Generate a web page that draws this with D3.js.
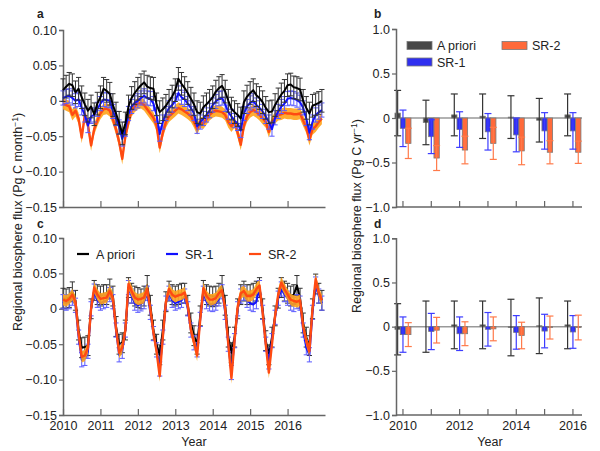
<!DOCTYPE html>
<html><head><meta charset="utf-8">
<script src="https://cdn.jsdelivr.net/npm/d3@7/dist/d3.min.js"></script>
<style>body{margin:0;background:#fff} svg text{font-family:"Liberation Sans",Arial,Helvetica,sans-serif;fill:#222}</style>
</head><body><svg id="chart" width="600" height="451"></svg>
<script>
// ---------- DATA ----------
const years = [2010, 2011, 2012, 2013, 2014, 2015, 2016];
const seriesNames = ["A priori", "SR-1", "SR-2"];

// Panel a: monthly flux (Pg C month^-1), Jan 2010 .. Dec 2016
const aprioriA = [0.015,0.02,0.024,0.022,0.012,0.017,0.005,-0.005,-0.014,-0.008,-0.019,-0.004,
  0.005,0.017,0.014,0.01,-0.006,-0.018,-0.031,-0.046,-0.032,-0.008,0.004,0.011,
  0.017,0.022,0.026,0.02,0.018,0.017,-0.005,-0.016,-0.012,-0.007,0.0,0.006,
  0.015,0.031,0.024,0.018,0.011,0.003,-0.005,-0.016,-0.018,-0.009,-0.005,0.0,
  0.005,0.013,0.018,0.021,0.013,0.0,-0.011,-0.016,-0.02,-0.025,-0.002,0.006,
  0.011,0.015,0.008,0.004,-0.002,-0.01,-0.016,-0.015,-0.006,0.002,0.009,0.014,
  0.022,0.023,0.019,0.018,0.016,0.0,-0.01,-0.018,-0.007,-0.005,-0.003,0.0];
const sr1A = [0.004,0.006,0.007,0.004,0.0,0.002,-0.01,-0.02,-0.035,-0.022,-0.02,-0.012,
  -0.004,0.002,0.001,0.0,-0.015,-0.025,-0.037,-0.054,-0.04,-0.018,-0.008,-0.003,
  0.0,0.004,0.007,0.004,0.003,-0.004,-0.02,-0.047,-0.03,-0.018,-0.01,-0.006,
  0.0,0.011,0.005,0.002,-0.004,-0.01,-0.018,-0.036,-0.03,-0.025,-0.02,-0.014,
  -0.006,-0.001,0.003,0.004,-0.005,-0.016,-0.022,-0.028,-0.032,-0.042,-0.018,-0.008,
  -0.003,0.0,-0.006,-0.01,-0.015,-0.022,-0.03,-0.04,-0.024,-0.015,-0.008,-0.004,
  0.003,0.004,0.003,0.001,-0.002,-0.01,-0.025,-0.045,-0.03,-0.02,-0.016,-0.013];
const sr2A = [-0.004,-0.006,-0.008,-0.02,-0.014,-0.025,-0.052,-0.02,-0.034,-0.063,-0.04,-0.028,
  -0.018,-0.012,-0.011,-0.014,-0.026,-0.04,-0.058,-0.082,-0.05,-0.03,-0.014,-0.008,
  -0.004,-0.003,-0.006,-0.012,-0.018,-0.024,-0.035,-0.066,-0.045,-0.03,-0.022,-0.018,
  -0.014,-0.01,-0.012,-0.015,-0.018,-0.022,-0.03,-0.04,-0.03,-0.032,-0.026,-0.02,
  -0.016,-0.014,-0.015,-0.016,-0.02,-0.03,-0.036,-0.03,-0.045,-0.062,-0.035,-0.022,
  -0.016,-0.013,-0.016,-0.02,-0.025,-0.03,-0.044,-0.03,-0.024,-0.02,-0.019,-0.017,
  -0.018,-0.018,-0.019,-0.019,-0.018,-0.028,-0.038,-0.055,-0.04,-0.036,-0.03,-0.025];

// Panel c: monthly flux (Pg C month^-1)
const aprioriC = [0.015,0.014,0.016,0.024,0.012,-0.03,-0.055,-0.054,-0.052,0.0,0.026,0.02,
  0.018,0.02,0.02,0.028,0.018,-0.025,-0.05,-0.048,-0.03,0.03,0.022,0.018,
  0.016,0.014,0.018,0.033,0.005,-0.03,-0.05,-0.065,-0.03,0.01,0.025,0.02,
  0.018,0.02,0.022,0.022,0.005,-0.02,-0.038,-0.05,-0.01,0.026,0.02,0.018,
  0.017,0.018,0.022,0.033,0.005,-0.04,-0.062,-0.04,0.0,0.02,0.025,0.02,
  0.02,0.022,0.025,0.03,0.0,-0.045,-0.065,-0.04,-0.01,0.015,0.03,0.025,
  0.022,0.018,0.02,0.033,0.015,-0.02,-0.04,-0.052,0.0,0.035,0.022,0.012];
const sr1C = [0.01,0.008,0.01,0.015,0.005,-0.04,-0.072,-0.07,-0.06,0.0,0.025,0.012,
  0.008,0.01,0.012,0.02,0.01,-0.03,-0.065,-0.06,-0.03,0.03,0.018,0.008,
  0.005,0.007,0.01,0.022,-0.005,-0.035,-0.058,-0.085,-0.04,0.008,0.022,0.012,
  0.008,0.01,0.012,0.018,0.0,-0.03,-0.048,-0.058,-0.015,0.022,0.01,0.007,
  0.006,0.008,0.014,0.024,-0.005,-0.05,-0.09,-0.045,0.0,0.018,0.022,0.012,
  0.008,0.006,0.01,0.03,-0.005,-0.05,-0.075,-0.045,-0.012,0.015,0.028,0.02,
  0.015,0.008,0.006,0.01,0.008,-0.03,-0.055,-0.065,-0.005,0.035,0.018,0.008];
const sr2C = [0.013,0.011,0.014,0.02,0.01,-0.035,-0.068,-0.066,-0.055,0.0,0.03,0.02,
  0.014,0.015,0.016,0.025,0.015,-0.028,-0.062,-0.055,-0.03,0.035,0.025,0.016,
  0.013,0.014,0.016,0.028,0.0,-0.034,-0.06,-0.095,-0.04,0.01,0.028,0.02,
  0.017,0.019,0.02,0.023,0.005,-0.03,-0.047,-0.066,-0.015,0.029,0.018,0.013,
  0.013,0.015,0.022,0.026,0.0,-0.05,-0.098,-0.045,0.003,0.022,0.025,0.018,
  0.018,0.02,0.028,0.033,-0.005,-0.05,-0.09,-0.05,-0.01,0.02,0.037,0.028,
  0.02,0.013,0.011,0.01,0.012,-0.025,-0.045,-0.06,0.0,0.042,0.023,0.012];

// uncertainty half-widths (Pg C month^-1)
const errAprioriA = 0.016, errSr1A = 0.010, bandSr2A = 0.008;
const errAprioriC = 0.014, errSr1C = 0.010, bandSr2C = 0.008;

// Panel b: annual flux (Pg C yr^-1) and uncertainty
const aprioriB = [0.055,-0.05,0.035,0.02,0.01,-0.025,0.035];
const aprioriBErr = [0.255,0.25,0.235,0.25,0.24,0.245,0.235];
const sr1B = [-0.116,-0.21,-0.13,-0.155,-0.19,-0.145,-0.145];
const sr1BErr = [0.205,0.19,0.2,0.205,0.19,0.205,0.205];
const sr2B = [-0.285,-0.45,-0.36,-0.285,-0.37,-0.385,-0.385];
const sr2BErr = [0.17,0.14,0.155,0.18,0.155,0.13,0.125];

// Panel d: annual flux (Pg C yr^-1) and uncertainty
const aprioriD = [-0.03,0.0,0.02,0.02,-0.01,0.01,0.02];
const aprioriDErr = [0.29,0.29,0.27,0.27,0.32,0.315,0.27];
const sr1D = [-0.09,-0.055,-0.08,-0.03,-0.065,-0.05,-0.06];
const sr1DErr = [0.2,0.205,0.19,0.19,0.19,0.19,0.185];
const sr2D = [-0.09,-0.04,-0.08,-0.025,-0.1,-0.01,-0.01];
const sr2DErr = [0.135,0.145,0.135,0.135,0.15,0.13,0.14];

const tickA = [0.10,0.05,0,-0.05,-0.10,-0.15];
const tickB = [1.0,0.5,0,-0.5,-1.0];
const tickDLabels = [2010, 2012, 2014, 2016];

// ---------- DRAWING ----------
const svg = d3.select("#chart");
const FONT = 12.5;
const axisCol = "#666";
const fmtA = v => v === 0 ? "0" : (v < 0 ? "\u2212" : "") + Math.abs(v).toFixed(2);
const fmtB = v => v === 0 ? "0" : (v < 0 ? "\u2212" : "") + Math.abs(v).toFixed(1);

const t = d3.range(aprioriA.length).map(i => years[0] + i / 12);
const x = d3.scaleLinear().domain([2010, 2017]).range([63, 325]);

function styleAxis(g) {
  g.selectAll("path.domain").attr("stroke", axisCol).attr("stroke-width", 1.5);
  g.selectAll(".tick line").attr("stroke", axisCol).attr("stroke-width", 1.2);
  g.selectAll("text").attr("font-size", FONT).attr("fill", "#222")
    .attr("font-family", '"Liberation Sans",Arial,sans-serif');
}

function timePanel(y, top, bottom, ap, s1, s2, eAp, eS1, bS2, showXLabels, order) {
  // y axis
  const gy = svg.append("g").attr("transform", "translate(63,0)")
    .call(d3.axisLeft(y).tickValues(tickA).tickFormat(fmtA).tickSize(4).tickPadding(2));
  styleAxis(gy);
  // x axis (ticks pointing inward)
  const gx = svg.append("g").attr("transform", `translate(0,${bottom})`)
    .call(d3.axisBottom(x).tickValues(years).tickSize(-6).tickSizeOuter(0)
      .tickFormat(showXLabels ? d3.format("d") : () => "").tickPadding(showXLabels ? 11 : 0));
  styleAxis(gx);
  gx.selectAll(".tick text").attr("dy", "0.35em");

  const line = arr => d3.line().x((d, i) => x(t[i])).y(d => y(d))(arr);
  const drawErr = (arr, e, col, w) => {
    const g = svg.append("g").attr("stroke", col).attr("stroke-width", w).attr("fill", "none");
    arr.forEach((v, i) => {
      const xi = x(t[i]);
      g.append("line").attr("x1", xi).attr("x2", xi).attr("y1", y(v - e)).attr("y2", y(v + e));
      g.append("line").attr("x1", xi - 2.6).attr("x2", xi + 2.6).attr("y1", y(v - e)).attr("y2", y(v - e));
      g.append("line").attr("x1", xi - 2.6).attr("x2", xi + 2.6).attr("y1", y(v + e)).attr("y2", y(v + e));
    });
  };
  const drawSr2 = () => {
    const area = d3.area().x((d, i) => x(t[i])).y0(d => y(d - bS2)).y1(d => y(d + bS2));
    svg.append("path").attr("d", area(s2)).attr("fill", "#ffa31a").attr("opacity", 0.9);
    svg.append("path").attr("d", line(s2)).attr("fill", "none").attr("stroke", "#ff4a12").attr("stroke-width", 2.4).attr("stroke-linejoin", "round");
  };
  const drawSr1 = () => {
    drawErr(s1, eS1, "#5a5aff", 1);
    svg.append("path").attr("d", line(s1)).attr("fill", "none").attr("stroke", "#1010ff").attr("stroke-width", 2).attr("stroke-linejoin", "round");
  };
  const drawAp = () => {
    drawErr(ap, eAp, "#333", 1);
    svg.append("path").attr("d", line(ap)).attr("fill", "none").attr("stroke", "#000").attr("stroke-width", 2).attr("stroke-linejoin", "round");
  };
  const fns = { ap: drawAp, s1: drawSr1, s2: drawSr2 };
  order.forEach(k => fns[k]());
}

const yA = d3.scaleLinear().domain([-0.15, 0.10]).range([207, 30]);
const yC = d3.scaleLinear().domain([-0.15, 0.10]).range([415, 238]);
timePanel(yA, 30, 207, aprioriA, sr1A, sr2A, errAprioriA, errSr1A, bandSr2A, false, ["s2", "s1", "ap"]);
timePanel(yC, 238, 415, aprioriC, sr1C, sr2C, errAprioriC, errSr1C, bandSr2C, true, ["ap", "s1", "s2"]);

// legend panel c
const legC = [
  { name: seriesNames[0], col: "#000", x: 77 },
  { name: seriesNames[1], col: "#1010ff", x: 166 },
  { name: seriesNames[2], col: "#ff4a12", x: 249 }];
legC.forEach(d => {
  svg.append("line").attr("x1", d.x).attr("x2", d.x + 12).attr("y1", 254).attr("y2", 254)
    .attr("stroke", d.col).attr("stroke-width", 2.2);
  svg.append("text").attr("x", d.x + 19).attr("y", 258.5).attr("font-size", FONT).text(d.name);
});

// ---------- bar panels ----------
const xb = d3.scaleBand().domain(years).range([388.8, 587.1]);
const xInner = d3.scaleBand().domain([0, 1, 2]).range([-8, 8]);
const barFill = ["#484848", "#2f2fef", "#ff6a3a"];
const errCol = ["#333", "#3c3cff", "#ff7a4a"];

function barPanel(y, top, bottom, vals, errs, showLabels) {
  // zero line
  svg.append("line").attr("x1", 396).attr("x2", 582).attr("y1", y(0)).attr("y2", y(0))
    .attr("stroke", "#999").attr("stroke-width", 1.5);
  vals.forEach((arr, s) => {
    const g = svg.append("g");
    arr.forEach((v, i) => {
      const cx = xb(years[i]) + xb.bandwidth() / 2 + xInner(s);
      g.append("rect").attr("x", cx).attr("width", xInner.bandwidth())
        .attr("y", Math.min(y(v), y(0))).attr("height", Math.abs(y(v) - y(0)))
        .attr("fill", barFill[s]).attr("stroke", "#7a7a7a").attr("stroke-width", 0.8);
    });
  });
  vals.forEach((arr, s) => {
    const g = svg.append("g").attr("stroke", errCol[s]).attr("stroke-width", 1.2);
    arr.forEach((v, i) => {
      const cx = xb(years[i]) + xb.bandwidth() / 2 + xInner(s) + xInner.bandwidth() / 2;
      const e = errs[s][i];
      g.append("line").attr("x1", cx).attr("x2", cx).attr("y1", y(v - e)).attr("y2", y(v + e));
      [v - e, v + e].forEach(w => g.append("line").attr("x1", cx - 3.5).attr("x2", cx + 3.5).attr("y1", y(w)).attr("y2", y(w)));
    });
  });
  const gy = svg.append("g").attr("transform", "translate(396,0)")
    .call(d3.axisLeft(y).tickValues(tickB).tickFormat(fmtB).tickSize(4).tickPadding(2));
  styleAxis(gy);
  const gx = svg.append("g").attr("transform", `translate(0,${bottom})`)
    .call(d3.axisBottom(xb).tickSize(-6).tickSizeOuter(0)
      .tickFormat(d => showLabels && tickDLabels.includes(d) ? d : "").tickPadding(showLabels ? 11 : 0));
  gx.select("path.domain").attr("d", `M396,0H582`);
  styleAxis(gx);
  gx.selectAll(".tick text").attr("dy", "0.35em");
}

const yB = d3.scaleLinear().domain([-1, 1]).range([207, 29]);
const yD = d3.scaleLinear().domain([-1, 1]).range([415, 238.3]);
barPanel(yB, 29, 207, [aprioriB, sr1B, sr2B], [aprioriBErr, sr1BErr, sr2BErr], false);
barPanel(yD, 238.3, 415, [aprioriD, sr1D, sr2D], [aprioriDErr, sr1DErr, sr2DErr], true);

// legend panel b
const legB = [
  { name: seriesNames[0], s: 0, x: 407, y: 41.5 },
  { name: seriesNames[2], s: 2, x: 502, y: 41.5 },
  { name: seriesNames[1], s: 1, x: 407, y: 58 }];
legB.forEach(d => {
  svg.append("rect").attr("x", d.x).attr("y", d.y).attr("width", 25).attr("height", 8)
    .attr("fill", barFill[d.s]).attr("stroke", "#7a7a7a").attr("stroke-width", 0.8);
  svg.append("text").attr("x", d.x + 30).attr("y", d.y + 8.5).attr("font-size", FONT).text(d.name);
});

// panel letters
[["a", 37, 18], ["b", 374, 18], ["c", 37, 228], ["d", 374, 228]].forEach(([l, px, py]) =>
  svg.append("text").attr("x", px).attr("y", py).attr("font-size", 12).attr("font-weight", "bold").text(l));

// axis titles
svg.append("text").attr("transform", "translate(22,222) rotate(-90)").attr("text-anchor", "middle")
  .attr("font-size", FONT).html("Regional biosphere flux (Pg C month<tspan dy='-4' font-size='8.5'>\u22121</tspan><tspan dy='4'>)</tspan>");
svg.append("text").attr("transform", "translate(361,216) rotate(-90)").attr("text-anchor", "middle")
  .attr("font-size", FONT).html("Regional biosphere flux (Pg C yr<tspan dy='-4' font-size='8.5'>\u22121</tspan><tspan dy='4'>)</tspan>");
svg.append("text").attr("x", 194).attr("y", 446).attr("text-anchor", "middle").attr("font-size", FONT).text("Year");
svg.append("text").attr("x", 490).attr("y", 446).attr("text-anchor", "middle").attr("font-size", FONT).text("Year");
</script></body></html>
